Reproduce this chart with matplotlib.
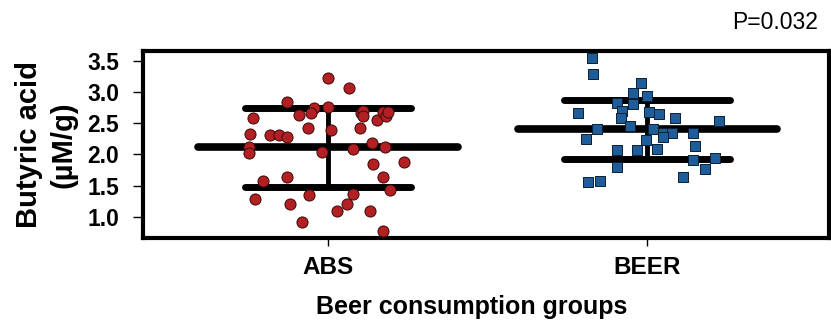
import matplotlib.pyplot as plt
import numpy as np

plt.rcParams['font.family'] = ['Liberation Sans', 'DejaVu Sans']

groups = ["ABS", "BEER"]

# ABS group (x jitter around 1, butyric acid in uM/g)
abs_x = [1.00, 1.067, 0.870, 1.00, 0.957, 0.946, 0.910, 0.764, 0.755, 0.818,
         0.847, 0.870, 0.938, 1.009, 1.102, 1.111, 1.109, 1.100, 1.153, 1.173,
         1.182, 1.189, 0.753, 0.753, 0.980, 1.079, 1.137, 1.179, 1.142, 1.238,
         0.797, 0.870, 1.173, 1.194, 0.771, 0.941, 1.077, 1.059, 0.881, 1.027,
         1.132, 0.917, 1.173]
abs_y = [3.22, 3.07, 2.84, 2.76, 2.75, 2.67, 2.63, 2.58, 2.32, 2.31,
         2.31, 2.27, 2.43, 2.39, 2.66, 2.69, 2.61, 2.43, 2.55, 2.68,
         2.61, 2.68, 2.12, 2.02, 2.04, 2.08, 2.18, 2.12, 1.84, 1.87,
         1.58, 1.63, 1.63, 1.43, 1.28, 1.35, 1.36, 1.20, 1.21, 1.09,
         1.09, 0.91, 0.77]

# BEER group
beer_x = [1.827, 1.830, 1.981, 1.955, 2.001, 1.907, 1.957, 1.921, 2.007, 2.036,
          1.785, 1.917, 2.088, 2.227, 1.945, 1.842, 2.020, 2.049, 2.077, 2.145,
          1.808, 1.997, 2.051, 2.150, 1.905, 1.968, 2.030, 2.143, 2.214, 1.905,
          2.182, 2.114, 1.816, 1.853]
beer_y = [3.55, 3.28, 3.15, 2.99, 2.94, 2.82, 2.80, 2.69, 2.68, 2.65,
          2.66, 2.59, 2.59, 2.53, 2.45, 2.40, 2.40, 2.34, 2.35, 2.35,
          2.25, 2.23, 2.27, 2.13, 2.07, 2.07, 2.09, 1.91, 1.94, 1.80,
          1.76, 1.63, 1.55, 1.58]

means = [2.11, 2.40]
sd_low = [1.48, 1.92]
sd_high = [2.75, 2.87]

fig = plt.figure(figsize=(8.31, 3.28), dpi=100)
ax = fig.add_axes([0.172, 0.2744, 0.8255, 0.570])

for i, g in enumerate(groups):
    pos = i + 1
    ax.plot([pos - 0.406, pos + 0.406], [means[i], means[i]], color="black",
            lw=5.5, solid_capstyle="round", zorder=2)
    for v in (sd_low[i], sd_high[i]):
        ax.plot([pos - 0.26, pos + 0.26], [v, v], color="black",
                lw=5, solid_capstyle="round", zorder=2)
    ax.plot([pos, pos], [sd_low[i], sd_high[i]], color="black", lw=3.5, zorder=2)

ax.scatter(abs_x, abs_y, s=64, marker="o", color="#B22024",
           edgecolor="#3a0a0a", linewidth=0.7, zorder=3)
ax.scatter(beer_x, beer_y, s=56, marker="s", color="#1F5C9A",
           edgecolor="#0b1f33", linewidth=0.7, zorder=3)

ax.set_xlim(0.42, 2.57)
ax.set_ylim(0.66, 3.655)
ax.set_xticks([1, 2])
ax.set_xticklabels(groups, fontsize=17.5, fontweight="bold")
ax.set_yticks([1.0, 1.5, 2.0, 2.5, 3.0, 3.5])
ax.set_yticklabels(["1.0", "1.5", "2.0", "2.5", "3.0", "3.5"],
                   fontsize=16.5, fontweight="bold")
ax.tick_params(axis="y", length=7, width=1, pad=10)
ax.tick_params(axis="x", length=6, width=1, pad=7)
for sp in ax.spines.values():
    sp.set_linewidth(3)

ax.set_ylabel("Butyric acid\n(µM/g)", fontsize=21, fontweight="bold",
              linespacing=1.3, labelpad=7)

fig.text(0.568, 0.064, "Beer consumption groups", fontsize=18,
         fontweight="bold", ha="center", va="center")
fig.text(0.984, 0.93, "P=0.032", fontsize=16.5, ha="right", va="center")

fig.savefig("out.png", dpi=100)
